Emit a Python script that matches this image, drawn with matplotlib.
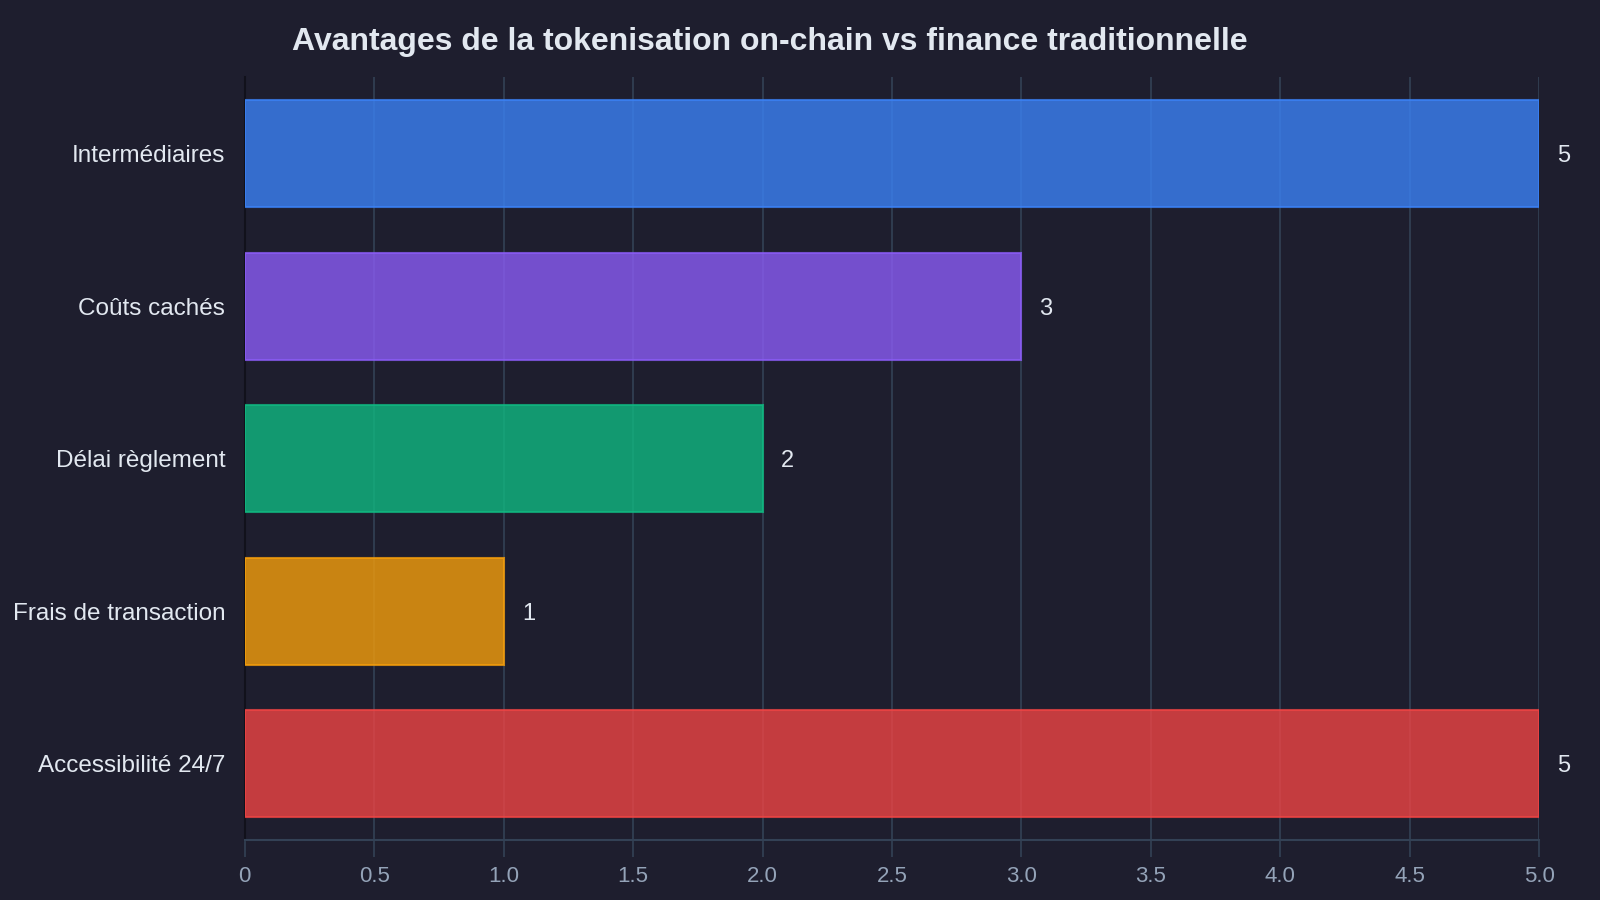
import matplotlib.pyplot as plt

plt.rcParams['font.family'] = ['Liberation Sans', 'DejaVu Sans']

# Data
categories = ['Intermédiaires', 'Coûts cachés', 'Délai règlement',
              'Frais de transaction', 'Accessibilité 24/7']
scores = [5, 3, 2, 1, 5]
bar_colors = ['#3B82F6', '#8B5CF6', '#10B981', '#F59E0B', '#EF4444']
x_ticks = [0, 0.5, 1.0, 1.5, 2.0, 2.5, 3.0, 3.5, 4.0, 4.5, 5.0]
x_tick_labels = ['0', '0.5', '1.0', '1.5', '2.0', '2.5', '3.0', '3.5', '4.0', '4.5', '5.0']

bg = '#1E1E2E'
grid_col = '#334155'
text_col = '#E2E8F0'
tick_col = '#94A3B8'

fig = plt.figure(figsize=(16, 9), dpi=100, facecolor=bg)
ax = fig.add_axes([0.153, 0.0667, 0.809, 0.8473])
ax.set_facecolor(bg)

y = list(range(len(categories)))
ax.barh(y, scores, height=0.7, color=bar_colors, alpha=0.8,
        edgecolor=bar_colors, linewidth=1.5, zorder=3)

for yi, v in zip(y, scores):
    ax.text(v + 0.07, yi, f'{v}', va='center_baseline', ha='left',
            fontsize=17, color=text_col, zorder=4)

ax.set_xlim(0, 5)
ax.set_ylim(len(categories) - 0.5, -0.5)
ax.set_yticks(y)
ax.set_yticklabels(categories, fontsize=17.5, color=text_col,
                   va='center_baseline')
ax.set_xticks(x_ticks)
ax.set_xticklabels(x_tick_labels, fontsize=16, color=tick_col)
ax.tick_params(axis='y', length=0, pad=14)
ax.tick_params(axis='x', length=12, width=1.2, color=grid_col, pad=7)

ax.grid(axis='x', color=grid_col, linewidth=1.2, zorder=0)
ax.set_axisbelow(True)

for side in ['top', 'right']:
    ax.spines[side].set_visible(False)
ax.spines['bottom'].set_color(grid_col)
ax.spines['bottom'].set_linewidth(1.5)
ax.spines['left'].set_color('#11111B')
ax.spines['left'].set_linewidth(1.5)

fig.text(0.481, 0.953, 'Avantages de la tokenisation on-chain vs finance traditionnelle',
         ha='center', va='center', fontsize=23, fontweight='bold', color=text_col)

plt.savefig('out.png', dpi=100, facecolor=bg)
